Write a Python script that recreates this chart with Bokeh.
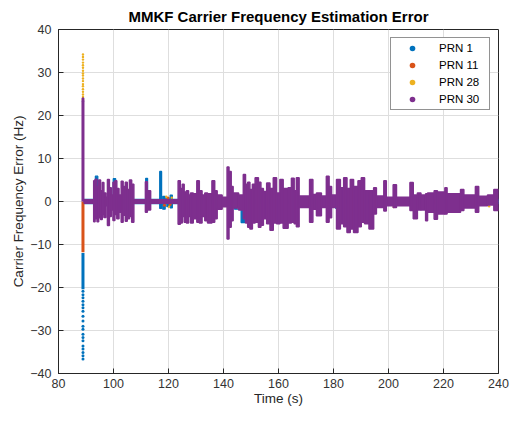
from bokeh.plotting import figure
from bokeh.models import Range1d, FixedTicker, Legend, LegendItem
from bokeh.embed import file_html
from bokeh.resources import INLINE

title_text = "MMKF Carrier Frequency Estimation Error"
x_label = "Time (s)"
y_label = "Carrier Frequency Error (Hz)"
x_ticks = [80, 100, 120, 140, 160, 180, 200, 220, 240]
y_ticks = [-40, -30, -20, -10, 0, 10, 20, 30, 40]
series_names = ["PRN 1", "PRN 11", "PRN 28", "PRN 30"]
colors = ["#0072BD", "#D95319", "#EDB120", "#7E2F8E"]

# start-up transient at t ~ 88.9 s
spike_t = 88.9
prn1_spike_solid = [-12.0, -20.4]
prn1_spike_dots = [-20.9, -21.7, -22.4, -23.2, -24.0, -24.7, -25.5, -26.7, -27.8,
                   -29.0, -29.7, -30.9, -31.6, -32.4, -33.6, -34.3, -35.1, -35.9, -36.6]
prn11_spike_solid = [0.0, -11.8]
prn28_spike_dots = [34.2, 33.6, 33.0, 32.3, 31.7, 31.1, 30.4, 29.8, 29.3, 28.6,
                    28.0, 27.3, 26.8, 26.1, 25.5, 24.9, 24.3, 23.8]
prn30_spike_solid = [0.0, 23.4]
prn30_spike_dots = [23.9, 23.5]

# PRN 30 envelope of the dense error oscillation (time boundaries, upper, lower)
prn30_edges = [89.3, 92.8, 93.3, 94.0, 94.6, 95.3, 95.9, 96.5, 97.3, 97.8,
               98.5, 99.2, 99.8, 100.5, 101.2, 102.0, 102.8, 103.5, 104.3, 105.0,
               105.8, 106.6, 107.4, 111.6, 112.3, 113.5, 123.5, 124.3, 125.0, 125.7,
               126.5, 127.3, 128.0, 129.0, 130.3, 131.2, 132.2, 133.2, 134.2, 135.8,
               136.8, 137.7, 139.5, 141.3, 142.0, 142.8, 143.5, 145.5, 147.2, 148.0,
               148.8, 149.6, 150.5, 151.5, 152.7, 153.6, 154.5, 155.7, 156.9, 158.1,
               159.3, 160.5, 161.7, 163.5, 164.7, 165.7, 166.5, 167.5, 171.3, 172.5,
               173.8, 175.6, 177.4, 178.4, 179.3, 181.1, 182.5, 183.7, 184.9, 186.1,
               187.3, 188.9, 190.1, 191.3, 192.9, 194.6, 195.6, 198.3, 199.2, 201.7,
               202.9, 207.8, 209.0, 210.5, 211.8, 213.5, 214.2, 216.6, 217.8, 220.5,
               221.3, 226.2, 227.4, 231.6, 232.8, 236.0, 238.3, 240.0]
prn30_hi = [0.4, 4.8, 5.2, 3.5, 5.0, 2.5, 4.4, 2.0, 1.0, 5.1,
            3.2, 1.5, 4.5, 4.8, 3.0, 1.5, 4.7, 3.5, 4.5, 2.8,
            5.0, 4.0, 0.4, 4.6, 2.5, 0.4, 4.8, 3.0, 4.0, 2.2,
            2.5, 1.5, 2.0, 1.8, 4.8, 2.5, 1.5, 2.0, 1.8, 4.8,
            2.5, 1.5, 1.0, 8.0, 7.0, 3.5, 2.0, 1.5, 6.3, 4.0,
            4.5, 2.8, 4.0, 5.5, 4.5, 3.0, 2.3, 4.3, 3.0, 5.5,
            2.0, 5.1, 3.0, 3.2, 5.4, 2.5, 5.5, 1.3, 5.1, 1.6,
            2.0, 1.3, 5.9, 3.5, 1.5, 5.1, 3.2, 5.5, 3.0, 5.1,
            3.5, 4.8, 5.5, 2.5, 2.5, 3.2, 1.3, 4.8, 1.0, 3.9,
            1.0, 4.4, 1.5, 2.0, 1.5, 1.8, 2.0, 2.5, 2.2, 3.2,
            1.8, 2.8, 1.5, 3.5, 1.2, 1.5, 2.8]
prn30_lo = [-0.4, -4.7, -4.0, -4.7, -3.8, -4.2, -3.0, -3.7, -1.0, -5.6,
            -3.5, -2.0, -4.4, -3.0, -4.0, -2.5, -4.8, -3.2, -4.6, -4.0,
            -3.5, -4.8, -0.4, -2.5, -2.0, -0.4, -5.3, -5.0, -3.5, -4.8,
            -5.0, -3.5, -5.0, -4.0, -4.8, -5.0, -3.5, -4.5, -5.0, -4.8,
            -4.0, -1.8, -1.2, -8.7, -6.0, -4.5, -1.5, -2.0, -4.0, -5.0,
            -6.0, -6.4, -5.0, -4.8, -6.0, -5.5, -4.0, -5.2, -6.7, -5.0,
            -5.2, -5.0, -6.2, -5.0, -4.8, -5.2, -5.9, -1.4, -4.8, -1.8,
            -3.3, -1.4, -4.8, -3.8, -1.4, -6.4, -5.2, -5.9, -7.2, -6.4,
            -7.2, -5.9, -4.8, -5.2, -6.4, -2.9, -1.4, -2.2, -1.0, -1.4,
            -1.0, -2.1, -4.0, -2.0, -2.0, -4.5, -2.5, -4.1, -2.9, -2.9,
            -2.5, -2.1, -1.5, -2.5, -1.0, -0.8, -2.1]

# PRN 1 parts that stick out from under PRN 30
prn1_t0 = [89.3, 93.4, 99.9, 111.7, 116.8, 117.9, 119.4, 120.6, 144.0, 146.4, 180.8]
prn1_t1 = [240.0, 94.3, 100.8, 112.4, 117.5, 118.8, 120.2, 121.4, 145.2, 147.8, 181.8]
prn1_hi = [0.5, 5.9, 5.3, 5.4, 7.0, 1.2, 0.9, 1.5, 1.4, 1.0, 1.4]
prn1_lo = [-0.5, -1.0, -1.0, -1.0, -1.6, -1.8, -1.2, -1.5, -1.8, -4.9, -1.6]

# scattered PRN 11 / PRN 28 points visible around zero
prn11_t = [118.5, 119.8, 120.6, 147.2, 199.5, 206.0]
prn11_v = [-0.9, 0.8, -0.7, -1.1, 0.7, 0.6]
prn28_t = [119.2, 120.2, 121.2, 144.6, 145.3, 201.9, 208.5, 221.0, 236.6]
prn28_v = [1.1, -1.2, 0.9, 1.6, -1.4, -1.3, -0.9, 1.0, -1.1]

FONT = "Liberation Sans"
AX = "#262626"

p = figure(width=514, height=421, output_backend="svg", toolbar_location=None,
           x_range=Range1d(80, 240), y_range=Range1d(-40, 40),
           min_border_left=58, min_border_right=16, min_border_top=28, min_border_bottom=48)
p.background_fill_color = "white"
p.border_fill_color = "white"
p.outline_line_color = AX
p.outline_line_width = 1

p.title.text = title_text
p.title.align = "center"
p.title.text_font = FONT
p.title.text_font_size = "15px"
p.title.text_font_style = "bold"
p.title.text_color = "#000000"
p.title.standoff = 10

for ax in (p.xaxis[0], p.yaxis[0]):
    ax.major_label_text_font = FONT
    ax.major_label_text_font_size = "12.5px"
    ax.major_label_text_color = "#333333"
    ax.axis_label_text_font = FONT
    ax.axis_label_text_font_size = "13.5px"
    ax.axis_label_text_font_style = "normal"
    ax.axis_label_text_color = "#262626"
    ax.axis_line_color = AX
    ax.major_tick_line_color = AX
    ax.major_tick_in = 5
    ax.major_tick_out = 0
    ax.minor_tick_line_color = None
p.xaxis[0].ticker = FixedTicker(ticks=x_ticks)
p.yaxis[0].ticker = FixedTicker(ticks=y_ticks)
p.xaxis[0].axis_label = x_label
p.yaxis[0].axis_label = y_label
p.xaxis[0].major_label_standoff = 5
p.yaxis[0].major_label_standoff = 7
p.xaxis[0].axis_label_standoff = 0
p.yaxis[0].axis_label_standoff = 1

p.xgrid.ticker = FixedTicker(ticks=x_ticks)
p.ygrid.ticker = FixedTicker(ticks=y_ticks)
p.grid.grid_line_color = "#dedede"
p.grid.grid_line_width = 1

# PRN 1 (drawn first, lowest)
p.quad(left=prn1_t0, right=prn1_t1, top=prn1_hi, bottom=prn1_lo,
       fill_color=colors[0], line_color=colors[0], line_width=1.2)
p.segment(x0=[spike_t], y0=[prn1_spike_solid[0]], x1=[spike_t], y1=[prn1_spike_solid[1]],
          line_color=colors[0], line_width=3)
r1 = p.scatter(x=[spike_t] * len(prn1_spike_dots), y=prn1_spike_dots, size=3.0,
               color=colors[0], line_width=0)

# PRN 11
p.segment(x0=[spike_t], y0=[prn11_spike_solid[0]], x1=[spike_t], y1=[prn11_spike_solid[1]],
          line_color=colors[1], line_width=3)
r11 = p.scatter(x=prn11_t, y=prn11_v, size=3.0, color=colors[1], line_width=0)

# PRN 28
r28 = p.scatter(x=[spike_t] * len(prn28_spike_dots) + prn28_t,
                y=prn28_spike_dots + prn28_v, size=2.4, color=colors[2], line_width=0)

# PRN 30 (top)
p.quad(left=prn30_edges[:-1], right=prn30_edges[1:], top=prn30_hi, bottom=prn30_lo,
       fill_color=colors[3], line_color=colors[3], line_width=1.5)
p.segment(x0=[spike_t], y0=[prn30_spike_solid[0]], x1=[spike_t], y1=[prn30_spike_solid[1]],
          line_color=colors[3], line_width=3)
r30 = p.scatter(x=[spike_t] * len(prn30_spike_dots), y=prn30_spike_dots, size=3.0,
                color=colors[3], line_width=0)

legend = Legend(items=[LegendItem(label=n, renderers=[r]) for n, r in
                       zip(series_names, [r1, r11, r28, r30])],
                location="top_right", margin=8, padding=3, spacing=3,
                glyph_width=36, glyph_height=14, label_height=14, label_width=47,
                label_standoff=9, border_line_color=AX, border_line_width=1,
                background_fill_color="white", background_fill_alpha=1.0,
                label_text_font=FONT, label_text_font_size="11.5px",
                label_text_color="#000000")
p.add_layout(legend)

open("out.html", "w").write(file_html(p, INLINE))
